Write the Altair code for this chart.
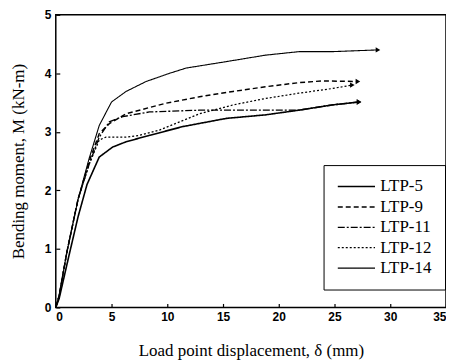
import altair as alt
import pandas as pd

series_names = ["LTP-5", "LTP-9", "LTP-11", "LTP-12", "LTP-14"]

ltp5_x = [0, 0.3, 1.2, 2.0, 2.8, 3.9, 5.1, 6.3, 8.4, 11.4, 15.3, 18.8, 21.8, 24.8, 27.2]
ltp5_y = [0, 0.15, 0.9, 1.55, 2.1, 2.57, 2.74, 2.83, 2.94, 3.09, 3.23, 3.29, 3.37, 3.46, 3.51]

ltp9_x = [0, 0.3, 1.0, 2.0, 3.0, 3.9, 4.8, 6.3, 9.9, 12.9, 15.9, 18.8, 21.8, 23.9, 27.1]
ltp9_y = [0, 0.2, 0.95, 1.85, 2.5, 2.97, 3.14, 3.31, 3.49, 3.6, 3.69, 3.77, 3.84, 3.87, 3.86]

ltp11_x = [0, 0.3, 1.0, 2.0, 3.0, 3.9, 4.8, 6.0, 8.4, 12.9, 18.8, 21.8, 24.8, 27.2]
ltp11_y = [0, 0.2, 0.95, 1.85, 2.45, 2.91, 3.17, 3.26, 3.34, 3.37, 3.37, 3.37, 3.46, 3.51]

ltp12_x = [0, 0.3, 1.0, 2.0, 3.0, 3.9, 4.5, 6.3, 7.5, 9.3, 12.9, 15.9, 18.8, 21.8, 24.8, 26.6]
ltp12_y = [0, 0.2, 0.95, 1.85, 2.45, 2.86, 2.91, 2.91, 2.94, 3.03, 3.31, 3.46, 3.57, 3.66, 3.74, 3.8]

ltp14_x = [0, 0.3, 1.0, 2.0, 3.0, 3.9, 5.0, 6.3, 8.1, 10.2, 11.7, 15.3, 18.8, 21.8, 24.8, 28.9]
ltp14_y = [0, 0.2, 0.95, 1.85, 2.55, 3.11, 3.51, 3.69, 3.86, 4.0, 4.09, 4.2, 4.31, 4.37, 4.37, 4.4]

x_ticks = [i * 2.5 for i in range(15)]
y_ticks = [i * 0.5 for i in range(11)]

dash_styles = [[1, 0], [5, 3], [7, 2, 2, 2], [2, 2], [1, 0]]
widths = [1.6, 1.1, 1.1, 1.0, 1.2]

rows = []
for name, xs, ys in zip(series_names,
                        [ltp5_x, ltp9_x, ltp11_x, ltp12_x, ltp14_x],
                        [ltp5_y, ltp9_y, ltp11_y, ltp12_y, ltp14_y]):
    for i, (a, b) in enumerate(zip(xs, ys)):
        rows.append({"series": name, "x": a, "y": b, "order": i})
df = pd.DataFrame(rows)
ends = df.sort_values("order").groupby("series").tail(1)

xscale = alt.Scale(domain=[0, 35], nice=False)
yscale = alt.Scale(domain=[0, 5], nice=False)

xaxis = alt.Axis(
    title="Load point displacement, δ (mm)", values=x_ticks,
    labelExpr="datum.value % 5 == 0 ? format(datum.value, 'd') : ''",
    offset=-4, tickSize=4, domain=False, grid=False,
    labelPadding=4, titlePadding=20,
)
yaxis = alt.Axis(
    title="Bending moment, M (kN-m)", values=y_ticks,
    labelExpr="datum.value % 1 == 0 ? format(datum.value, 'd') : ''",
    offset=-4, tickSize=4, domain=False, grid=False,
    labelPadding=5, titlePadding=17,
)

lines = alt.Chart(df).mark_line(color="black").encode(
    x=alt.X("x:Q", scale=xscale, axis=xaxis),
    y=alt.Y("y:Q", scale=yscale, axis=yaxis),
    order="order:Q",
    strokeDash=alt.StrokeDash(
        "series:N",
        scale=alt.Scale(domain=series_names, range=dash_styles),
        legend=alt.Legend(
            title=None, orient="none", legendX=269, legendY=151,
            padding=13, strokeColor="black", symbolType="stroke",
            symbolSize=1400, symbolStrokeColor="black", symbolStrokeWidth=1.1,
            clipHeight=17,
            labelFont="Liberation Serif", labelFontSize=17, labelColor="black",
            rowPadding=2.5, labelOffset=4,
        ),
    ),
    strokeWidth=alt.StrokeWidth(
        "series:N",
        scale=alt.Scale(domain=series_names, range=widths),
        legend=None,
    ),
)

arrows = alt.Chart(ends).mark_point(
    shape="triangle-right", filled=True, color="black", size=28, opacity=1
).encode(
    x=alt.X("x:Q", scale=xscale),
    y=alt.Y("y:Q", scale=yscale),
)

chart = alt.layer(lines, arrows).properties(
    width=392, height=294,
    background="white",
    autosize=alt.AutoSizeParams(type="none"),
    padding={"left": 48, "top": 6, "right": 0, "bottom": 55},
).configure_view(
    stroke="black", strokeWidth=1.5
).configure_axis(
    labelFont="Liberation Sans", labelFontWeight="bold", labelFontSize=12,
    labelColor="black", tickColor="black", tickWidth=1.2,
    titleFont="Liberation Serif", titleFontWeight="normal", titleFontSize=17,
    titleColor="black",
)

chart.save("out.html", embed_options={"renderer": "svg", "actions": False})
